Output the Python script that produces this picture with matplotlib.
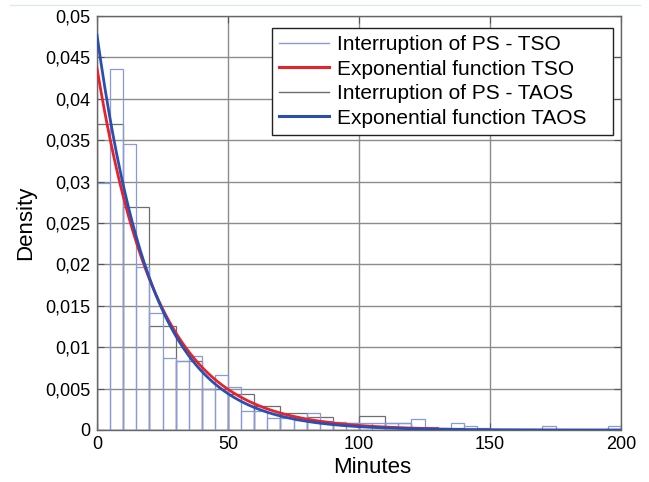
import numpy as np
import matplotlib
matplotlib.use("Agg")
import matplotlib.pyplot as plt
from matplotlib.lines import Line2D

plt.rcParams['font.family'] = ['Liberation Sans', 'DejaVu Sans']

# --- data ---
# TSO histogram: 5-minute bins starting at 0
tso_bin_width = 5
tso_density = [0.0298, 0.0436, 0.0345, 0.0197, 0.0141, 0.0087, 0.0083, 0.0089,
               0.0050, 0.0067, 0.0052, 0.0023, 0.0023, 0.0015, 0.0014, 0.0012,
               0.0021, 0.0011, 0.0010, 0.0008, 0.0008, 0.0009, 0.0009, 0.0009,
               0.0013, 0.0004, 0.0002, 0.0009, 0.0005, 0.0002, 0.0, 0.0,
               0.0, 0.0, 0.0005, 0.0, 0.0, 0.0, 0.0, 0.0005]
# TAOS histogram: 10-minute bins starting at 0
taos_bin_width = 10
taos_density = [0.0370, 0.0269, 0.0126, 0.0083, 0.0050, 0.0043, 0.0029, 0.0020,
                0.0016, 0.0008, 0.0017, 0.0009, 0.0003, 0.0002, 0.0, 0.0,
                0.0, 0.0, 0.0, 0.0]
# fitted exponential rates (1/min) and plotted ranges (min)
tso_rate = 0.0437
taos_rate = 0.0477
tso_range = (0, 130)
taos_range = (0, 200)

x_ticks = [0, 50, 100, 150, 200]
y_ticks = [0, 0.005, 0.01, 0.015, 0.02, 0.025, 0.03, 0.035, 0.04, 0.045, 0.05]
y_tick_labels = ['0', '0,005', '0,01', '0,015', '0,02', '0,025', '0,03',
                 '0,035', '0,04', '0,045', '0,05']

labels = ['Interruption of PS - TSO', 'Exponential function TSO',
          'Interruption of PS - TAOS', 'Exponential function TAOS']

# --- styling ---
c_tso_hist = '#8a98dc'
c_taos_hist = '#6e6e6e'
c_tso_fit = '#e8222a'
c_taos_fit = '#2a4fb0'
c_grid = '#8c8c8c'

fig = plt.figure(figsize=(6.49, 4.82), dpi=100)
ax = fig.add_axes([97/649, 1-430/482, (621-97)/649, (430-16)/482])

# histograms
taos_edges = np.arange(len(taos_density)) * taos_bin_width
ax.bar(taos_edges, taos_density, width=taos_bin_width, align='edge',
       fill=False, edgecolor=c_taos_hist, linewidth=0.9, zorder=2)
tso_edges = np.arange(len(tso_density)) * tso_bin_width
ax.bar(tso_edges, tso_density, width=tso_bin_width, align='edge',
       fill=False, edgecolor=c_tso_hist, linewidth=0.9, zorder=2.1)

# exponential fits
xt = np.linspace(tso_range[0], tso_range[1], 300)
ax.plot(xt, tso_rate * np.exp(-tso_rate * xt), color=c_tso_fit, lw=2.0, zorder=3)
xa = np.linspace(taos_range[0], taos_range[1], 400)
ax.plot(xa, taos_rate * np.exp(-taos_rate * xa), color=c_taos_fit, lw=2.0, zorder=3.1)

ax.set_xlim(0, 200)
ax.set_ylim(0, 0.05)
ax.set_xticks(x_ticks)
ax.set_xticklabels([str(t) for t in x_ticks])
ax.set_yticks(y_ticks)
ax.set_yticklabels(y_tick_labels)
ax.tick_params(direction='in', length=5, width=0.8, color='#555555',
               labelsize=13, top=True, right=True, pad=4)
ax.tick_params(axis='y', pad=5)

ax.grid(True, color=c_grid, linewidth=1.0)
ax.set_axisbelow(True)
for s in ax.spines.values():
    s.set_color('#666666')
    s.set_linewidth(1.0)

ax.set_xlabel('Minutes', fontsize=16, labelpad=2)
ax.xaxis.set_label_coords(0.525, -0.065)
ax.set_ylabel('Density', fontsize=16, labelpad=6)

handles = [Line2D([], [], color=c_tso_hist, lw=1.0),
           Line2D([], [], color=c_tso_fit, lw=2.2),
           Line2D([], [], color=c_taos_hist, lw=1.0),
           Line2D([], [], color=c_taos_fit, lw=2.2)]
leg = ax.legend(handles, labels, loc='upper left',
                bbox_to_anchor=(0.334, 0.5, 0.651, 0.472), mode='expand',
                fontsize=15, frameon=True, fancybox=False, framealpha=1,
                edgecolor='#222222', handlelength=2.4, handletextpad=0.35,
                labelspacing=0.27, borderpad=0.35, borderaxespad=0.0)
leg.get_frame().set_linewidth(1.0)

# faint screenshot border at the top
fig.add_artist(Line2D([10/649, 640/649], [1-5/482, 1-5/482], color='#dce9f3', lw=1.0))

fig.savefig('out.png', dpi=100)
